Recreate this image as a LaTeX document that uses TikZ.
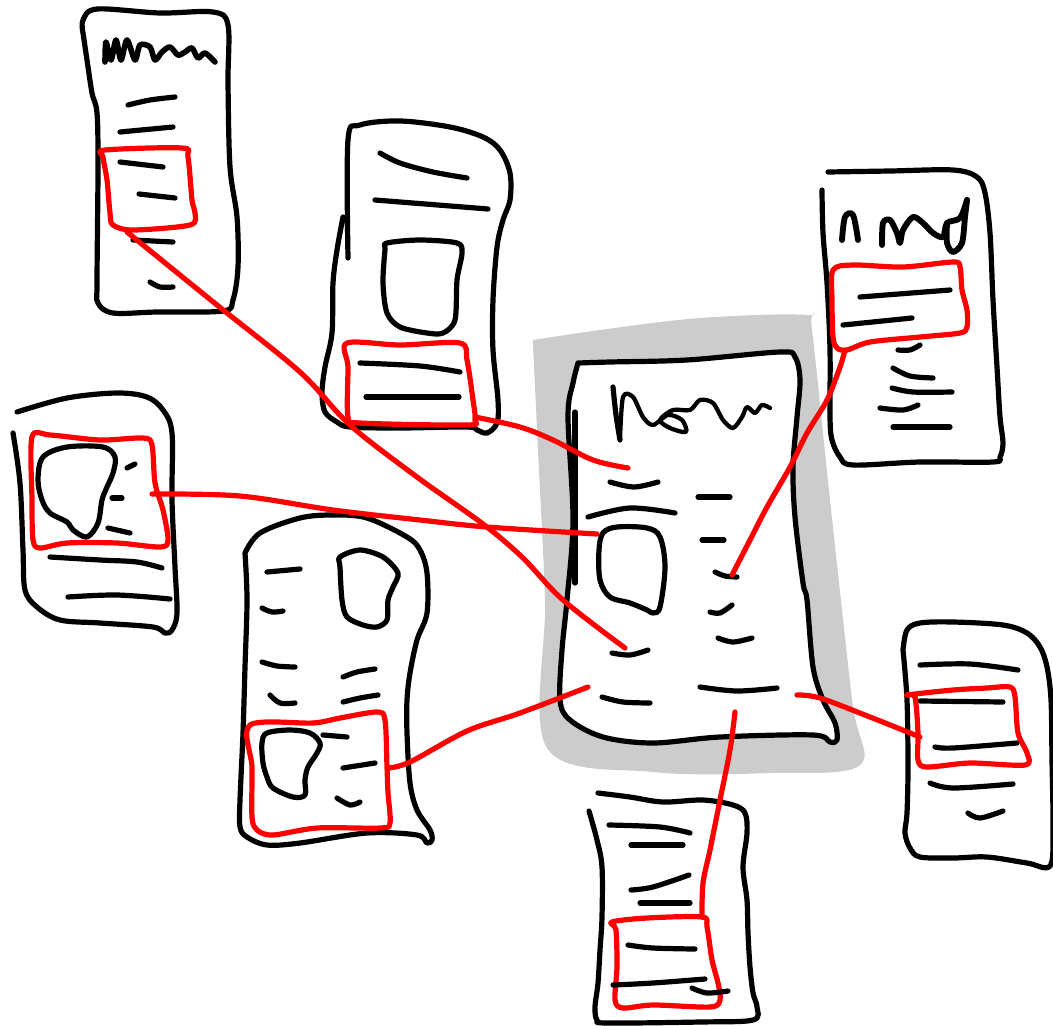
\documentclass[tikz,border=0pt]{standalone}
\begin{document}
\begin{tikzpicture}[x=0.75pt,y=-0.75pt,
  ink/.style={draw=black,line width=3.9pt,line cap=round,line join=round},
  redink/.style={draw=red,line width=3.9pt,line cap=round,line join=round},
  conn/.style={draw=red,line width=3.9pt,line cap=round,line join=round},
  sm/.style={smooth,tension=0.55}]
\useasboundingbox (0,0) rectangle (1053,1025);

% ---------- gray shadow of the central card
\fill[black!20] plot[sm] coordinates {(533,340) (600,330) (700,318) (806,315) (812,330) (830,500) (852,700) (860,765) (770,773) (653,772) (547,748) (545,600) (538,450) (533,345)};

% ---------- central card
\draw[ink,fill=white] plot[sm] coordinates {(578,363) (610,362) (687,360) (780,352) (795,357) (800,380) (797,417) (793,467) (795,517) (803,583) (807,600) (813,667) (823,700) (835,723) (837,740) (830,742) (813,735) (720,737) (653,743) (603,737) (570,720) (560,700) (562,650) (567,600) (573,520) (568,417) (573,383) (578,363)};
\draw[ink] plot[sm] coordinates {(575,412) (575,500) (575,583)};
\draw[ink] plot[sm] coordinates {(613,387) (616,415) (620,440)};
\draw[ink,line width=3.2pt] plot[smooth,tension=0.5] coordinates {(620,440) (623,397) (633,397) (643,417) (653,425) (668,415) (682,420) (686,432) (670,428) (660,420) (673,410) (690,410) (700,400) (713,403) (723,420) (733,428) (742,417) (747,407) (755,413) (762,405) (770,408)};
\draw[ink] plot[sm] coordinates {(610,482) (634,487) (658,482)};
\draw[ink] (698,497) -- (730,497);
\draw[ink] plot[sm] coordinates {(588,517) (630,508) (675,513)};
\draw[ink] (702,540) -- (724,540);
\draw[ink] plot[sm] coordinates {(715,572) (725,576) (737,577)};
\draw[ink] plot[sm] coordinates {(710,612) (720,613) (732,605)};
\draw[ink] plot[sm] coordinates {(718,638) (733,642) (752,638)};
\draw[ink] plot[sm] coordinates {(612,653) (630,655) (648,650)};
\draw[ink] plot[sm] coordinates {(602,697) (623,702) (650,703)};
\draw[ink] plot[sm] coordinates {(700,687) (737,691) (777,688)};
\draw[ink] plot[smooth cycle,tension=0.55] coordinates {(603,533) (617,527) (647,528) (660,537) (665,567) (660,607) (653,613) (647,610) (630,603) (610,597) (600,580) (599,550)};

% ---------- card A (top left)
\draw[ink] plot[sm] coordinates {(83,33) (83,20) (97,9) (160,13) (213,12) (228,25) (228,83) (230,167) (237,217) (238,267) (233,300) (223,311) (157,312) (113,313) (98,303) (97,283) (98,167) (97,113) (92,93) (87,60) (83,33)};
\draw[ink,line width=4.2pt] plot[smooth,tension=0.5] coordinates {(105,62) (106,42) (111,60) (116,40) (121,60) (127,40) (135,60) (140,45) (150,47) (155,60) (162,52) (170,47) (178,55) (185,52) (192,48) (198,58) (205,53) (215,62)};
\draw[ink] plot[sm] coordinates {(128,105) (150,100) (175,97)};
\draw[ink] (120,132) -- (173,127);
\draw[ink] (120,162) -- (163,167);
\draw[ink] (139,194) -- (175,198);
\draw[ink] (133,240) -- (173,242);
\draw[ink] plot[sm] coordinates {(150,282) (160,287) (173,287)};
\draw[redink] plot[smooth cycle,tension=0.5] coordinates {(105,150) (182,148) (188,157) (192,200) (195,213) (190,225) (133,230) (113,225) (110,213) (107,180) (103,157)};

% ---------- card B (top centre)
\draw[ink] plot[sm] coordinates {(348,258) (348,140) (360,125) (400,121) (450,127) (483,137) (500,150) (510,173) (510,200) (503,220) (497,247) (493,300) (493,350) (498,400) (497,423) (487,433) (477,430) (467,427) (400,428) (350,427) (337,422) (325,412) (322,393) (325,367) (332,333) (333,283) (337,250) (343,217)};
\draw[ink] plot[sm] coordinates {(380,153) (400,163) (433,172) (467,178)};
\draw[ink] (375,200) -- (488,209);
\draw[ink] plot[smooth cycle,tension=0.5] coordinates {(387,243) (420,240) (457,243) (462,253) (457,280) (455,320) (443,333) (427,333) (400,327) (387,313) (383,283) (385,250)};
\draw[redink] plot[smooth cycle,tension=0.5] coordinates {(347,343) (400,345) (460,343) (467,360) (473,400) (475,420) (467,425) (360,423) (348,417) (348,367)};
\draw[ink] plot[sm] coordinates {(360,363) (420,366) (460,372)};
\draw[ink] (366,397) -- (459,397);

% ---------- card C (left middle)
\draw[ink] plot[sm] coordinates {(17,412) (67,398) (117,393) (147,397) (163,410) (172,433) (172,500) (175,567) (177,613) (172,630) (165,633) (153,627) (100,623) (60,620) (37,607) (25,590) (23,550) (20,483) (13,433)};
\draw[redink] plot[smooth cycle,tension=0.5] coordinates {(32,437) (50,435) (100,440) (143,438) (152,445) (155,483) (163,510) (168,540) (160,547) (117,543) (67,543) (40,548) (33,540) (32,500)};
\draw[ink] plot[smooth cycle,tension=0.55] coordinates {(43,457) (67,447) (103,447) (115,457) (113,473) (107,487) (102,500) (98,523) (87,537) (73,530) (67,522) (50,513) (42,500) (38,480)};
\draw[ink] (127,468) -- (135,464);
\draw[ink] (112,498) -- (122,498);
\draw[ink] (108,528) -- (130,533);
\draw[ink] plot[sm] coordinates {(50,557) (100,560) (137,562) (162,568)};
\draw[ink] plot[sm] coordinates {(68,597) (117,595) (170,599)};

% ---------- card D (bottom left)
\draw[ink] plot[sm] coordinates {(245,553) (260,533) (300,518) (333,515) (367,518) (407,537) (420,550) (427,573) (427,613) (417,640) (410,673) (407,700) (407,733) (410,783) (417,810) (430,830) (432,840) (427,843) (417,835) (367,833) (300,843) (267,845) (247,837) (240,827) (240,800) (243,733) (245,667) (247,600) (245,553)};
\draw[ink] plot[smooth cycle,tension=0.5] coordinates {(340,557) (360,550) (383,557) (398,573) (393,587) (388,600) (387,620) (377,627) (363,625) (347,617) (342,600) (340,567)};
\draw[ink] (267,572) -- (300,569);
\draw[ink] plot[sm] coordinates {(262,608) (272,612) (283,611)};
\draw[ink] plot[sm] coordinates {(262,662) (277,666) (295,667)};
\draw[ink] plot[sm] coordinates {(343,677) (357,672) (375,669)};
\draw[ink] plot[sm] coordinates {(270,695) (280,703) (295,703)};
\draw[ink] plot[sm] coordinates {(343,702) (360,698) (378,695)};
\draw[redink] plot[smooth cycle,tension=0.5] coordinates {(250,725) (313,723) (340,718) (377,712) (385,720) (387,767) (388,793) (390,823) (380,828) (317,828) (273,835) (257,830) (252,817) (252,767)};
\draw[ink] plot[smooth cycle,tension=0.55] coordinates {(262,743) (267,733) (290,730) (310,733) (320,743) (317,753) (308,767) (305,780) (305,795) (293,797) (273,788) (267,777) (263,763)};
\draw[ink] (323,735) -- (347,737);
\draw[ink] (343,768) -- (375,763);
\draw[ink] plot[sm] coordinates {(337,798) (350,805) (360,802)};

% ---------- card E (top right)
\draw[ink] plot[sm] coordinates {(828,172) (890,171) (953,170) (977,177) (985,193) (990,233) (993,300) (997,367) (1000,417) (1003,443) (1000,457) (993,462) (920,462) (853,465) (840,457) (832,440) (830,417) (830,350) (827,283) (823,233) (822,190)};
\draw[ink,line width=4.4pt] plot[sm] coordinates {(842,240) (845,217) (853,215) (858,240)};
\draw[ink,line width=4.4pt] plot[smooth,tension=0.5] coordinates {(882,245) (883,223) (890,220) (897,233) (900,243) (903,230) (913,217) (923,223) (933,233) (943,237) (947,223) (960,218) (967,200)};
\draw[ink,line width=4.4pt] plot[smooth,tension=0.5] coordinates {(947,223) (947,243) (953,252) (962,243) (965,217) (967,200)};
\draw[redink] plot[smooth cycle,tension=0.5] coordinates {(833,270) (853,265) (903,267) (953,262) (960,267) (962,290) (967,310) (967,327) (960,333) (920,337) (870,342) (847,350) (837,348) (833,337) (832,300)};
\draw[ink] (860,297) -- (950,290);
\draw[ink] (843,325) -- (912,318);
\draw[ink] plot[sm] coordinates {(898,350) (910,350) (920,345)};
\draw[ink] plot[sm] coordinates {(893,368) (910,376) (933,378)};
\draw[ink] plot[sm] coordinates {(892,388) (913,392) (952,392)};
\draw[ink] plot[sm] coordinates {(880,408) (903,410) (918,405)};
\draw[ink] (893,427) -- (950,427);

% ---------- card F (right)
\draw[ink] plot[sm] coordinates {(903,650) (907,630) (920,623) (953,622) (1003,625) (1027,633) (1040,647) (1047,667) (1051,700) (1052,760) (1053,830) (1050,866) (1027,863) (987,857) (953,858) (920,857) (910,848) (905,833) (907,813) (908,767) (907,700) (903,650)};
\draw[ink] plot[sm] coordinates {(920,665) (970,664) (1018,670)};
\draw[ink] (920,701) -- (1003,702);
\draw[ink] plot[sm] coordinates {(935,747) (953,748) (1017,743)};
\draw[redink] plot[smooth cycle,tension=0.5] coordinates {(908,695) (953,690) (987,688) (1010,687) (1015,697) (1018,733) (1027,753) (1025,765) (970,763) (927,767) (918,760) (918,733) (915,697)};
\draw[ink] plot[sm] coordinates {(930,783) (953,788) (1013,784)};
\draw[ink] plot[sm] coordinates {(968,813) (980,818) (1003,811)};

% ---------- card G (bottom centre)
\draw[ink] plot[sm] coordinates {(598,793) (630,797) (663,802) (703,800) (733,805) (745,813) (747,833) (743,867) (747,900) (748,933) (750,967) (753,993) (757,1007) (753,1020) (700,1022) (607,1023) (597,1020) (595,1007) (598,983) (600,950) (602,917) (602,867) (597,840) (589,811)};
\draw[ink] plot[sm] coordinates {(609,825) (660,827) (690,833)};
\draw[ink] (631,845) -- (683,845);
\draw[ink] plot[sm] coordinates {(631,890) (653,887) (689,875)};
\draw[ink] (640,903) -- (690,903);
\draw[redink] plot[smooth cycle,tension=0.5] coordinates {(612,922) (647,918) (702,917) (707,927) (712,960) (718,983) (720,1000) (710,1007) (653,1005) (623,1008) (615,1000) (617,967) (616,930)};
\draw[ink] plot[sm] coordinates {(628,945) (653,948) (695,949)};
\draw[ink] plot[sm] coordinates {(613,985) (653,983) (705,979)};
\draw[ink] plot[sm] coordinates {(692,988) (707,993) (728,991)};

% ---------- connector end points
\coordinate (aS) at (127,232); \coordinate (aE) at (625,648);
\coordinate (bS) at (475,417); \coordinate (bE) at (628,468);
\coordinate (cS) at (152,494); \coordinate (cE) at (597,534);
\coordinate (dS) at (388,768); \coordinate (dE) at (588,687);
\coordinate (eS) at (845,350); \coordinate (eE) at (732,575);
\coordinate (fS) at (920,737); \coordinate (fE) at (797,695);
\coordinate (gS) at (702,917); \coordinate (gE) at (735,712);

% ---------- red connectors
\draw[conn] plot[sm] coordinates {(aS) (217,305) (300,372) (350,425) (417,477) (483,524) (522,557) (563,600) (aE)};
\draw[conn] plot[sm] coordinates {(bS) (520,427) (553,440) (593,460) (bE)};
\draw[conn] plot[sm] coordinates {(cS) (240,496) (333,510) (420,520) (487,527) (cE)};
\draw[conn] plot[sm] coordinates {(dS) (410,762) (467,731) (520,713) (dE)};
\draw[conn] plot[sm] coordinates {(eS) (840,367) (827,400) (807,433) (790,467) (767,507) (750,540) (eE)};
\draw[conn] plot[sm] coordinates {(fE) (820,698) (870,717) (fS)};
\draw[conn] plot[sm] coordinates {(gE) (730,750) (720,800) (710,850) (703,883) (gS)};
\end{tikzpicture}
\end{document}
